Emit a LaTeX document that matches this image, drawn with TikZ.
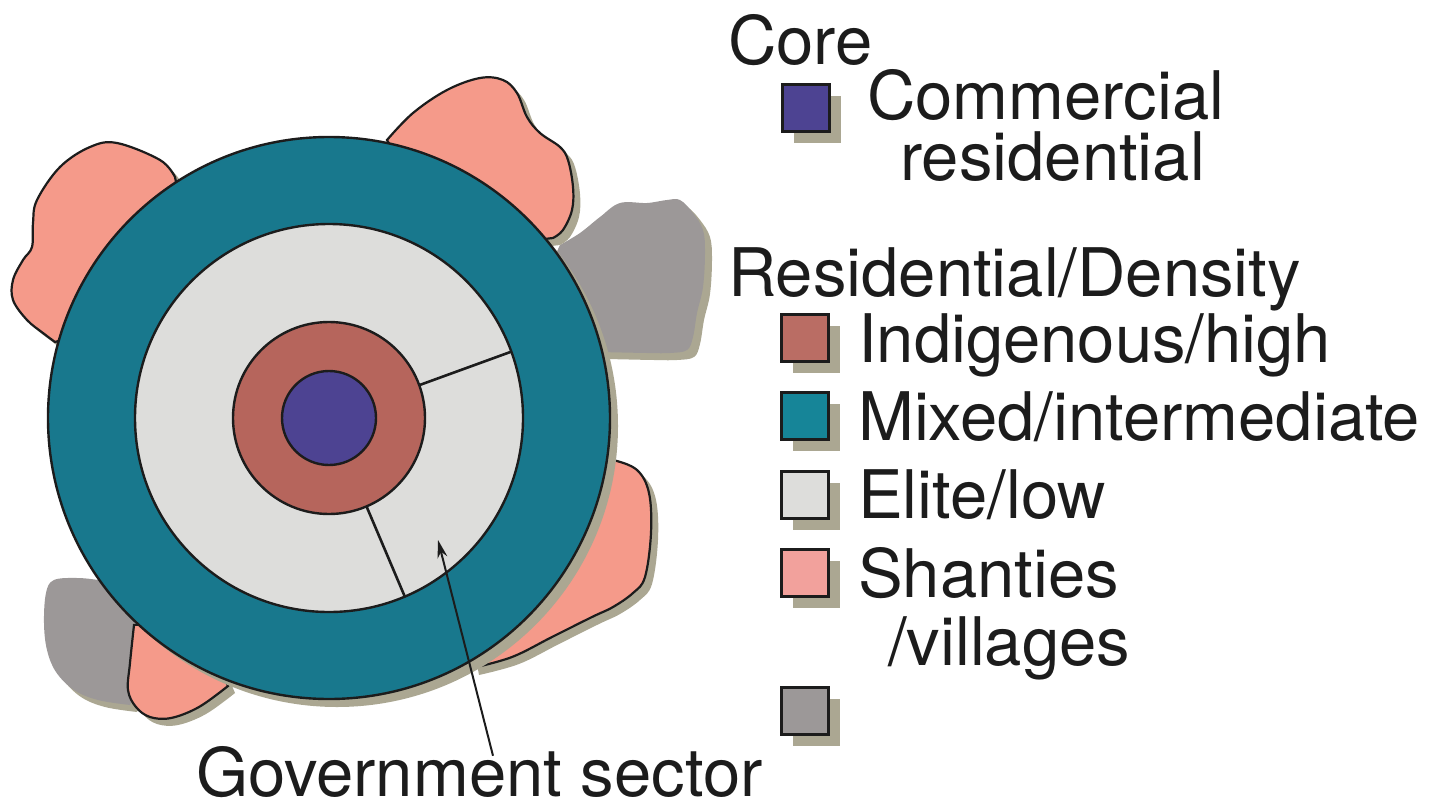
\documentclass[tikz,border=0pt]{standalone}
\usepackage{fontspec}
\setmainfont{TeX Gyre Heros}
\usepackage{xcolor}
\usepackage{tikz}
\usetikzlibrary{arrows.meta,shadows,calc}

\definecolor{corepurple}{HTML}{4D4392}
\definecolor{indigbrown}{HTML}{B6655C}
\definecolor{mixedteal}{HTML}{18788D}
\definecolor{elitegray}{HTML}{DDDDDB}
\definecolor{shantypink}{HTML}{F59A8A}
\definecolor{keypink}{HTML}{F2A19C}
\definecolor{othergray}{HTML}{9C9898}
\definecolor{shadowkhaki}{HTML}{ABA792}
\definecolor{inkblack}{HTML}{1C1C1C}

\tikzset{
  ring/.style={circle, draw=inkblack, line width=2.4pt, inner sep=0pt, outer sep=0pt},
  flatshadow/.style={general shadow={fill=shadowkhaki, shadow xshift=#1, shadow yshift=-#1}},
  pinkblob/.style={fill=shantypink, draw=inkblack, line width=2.2pt, flatshadow=7pt},
  greyblob/.style={fill=othergray, flatshadow=7pt},
  sector/.style={draw=inkblack, line width=2.6pt},
  pointer/.style={draw=inkblack, line width=2pt, -{Stealth[length=18pt,width=10pt]}},
  keybox/.style={draw=inkblack, line width=2.2pt, minimum size=47pt, inner sep=0pt, outer sep=0pt, flatshadow=11pt},
  keytext/.style={anchor=base west, inner sep=0pt, text=inkblack, font=\fontsize{67}{80}\selectfont}
}

\begin{document}
\begin{tikzpicture}[x=1pt, y=-1pt]
    \useasboundingbox (0,0) rectangle (1453,808);

    % Outlying areas (under the rings)
    \path[greyblob] plot[smooth, tension=0.6] coordinates {(560,245) (580,233) (600,217) (620,203) (647,203) (667,200) (680,200) (693,213) (703,230) (705,253) (703,287) (697,313) (693,337) (687,350) (670,353) (647,353) (600,352)} -- (520,330) -- cycle;
    \path[greyblob] plot[smooth, tension=0.6] coordinates {(98,580) (78,578) (54,580) (46,593) (44,623) (47,650) (56,672) (74,690) (98,700) (130,705)} -- (180,600) -- cycle;

    \path[pinkblob] plot[smooth, tension=0.6] coordinates {(175,177) (160,160) (117,143) (90,147) (60,167) (37,200) (33,223) (32,247) (23,260) (13,280) (13,300) (27,320) (43,333) (55,342)} -- (200,300) -- cycle;
    \path[pinkblob] plot[smooth, tension=0.6] coordinates {(387,140) (413,113) (447,90) (480,78) (503,80) (517,93) (527,117) (540,133) (560,147) (568,160) (573,187) (572,210) (563,230) (553,238)} -- (450,250) -- cycle;
    \path[pinkblob] plot[smooth, tension=0.6] coordinates {(605,462) (613,460) (637,470) (649,493) (651,533) (645,577) (633,593) (613,607) (592,617) (552,637) (512,657) (472,668)} -- (450,550) -- cycle;
    \path[pinkblob] plot[smooth, tension=0.6] coordinates {(134,625) (130,663) (128,690) (136,707) (150,717) (171,718) (199,707) (228,686)} -- (200,620) -- cycle;

    % Rings
    \node[ring, fill=mixedteal, minimum size=562pt, flatshadow=8pt] (mixed) at (329,418) {};
    \node[ring, fill=elitegray, minimum size=388pt] (elite) at (329,418) {};
    \node[ring, fill=indigbrown, minimum size=192pt] (indig) at (329,418) {};
    \node[ring, fill=corepurple, minimum size=94pt] (cbd) at (329,418) {};

    % Government sector wedge
    \draw[sector] (indig.20) -- (elite.20);
    \draw[sector] (indig.-67) -- (elite.-67);

    \node[keytext] (gov) at (196,796) {Government sector};
    \coordinate (govtip) at (438,540);
    \draw[pointer] ($(gov.north west)+(297,10)$) -- (govtip);

    % Key
    \node[keytext] (corehead) at (728,64) {Core};
    \node[keybox, fill=corepurple] (keycore) at (806,108) {};
    \node[keytext] (comm) at (867,119) {Commercial};
    \node[keytext] (resid) at (900,180) {residential};

    \node[keytext] (reshead) at (728,296) {Residential/Density};
    \node[keybox, fill=indigbrown!95!white] (keyindig) at (805,338) {};
    \node[keytext] (indigtext) at (858,362) {Indigenous/high};
    \node[keybox, fill=mixedteal!90!cyan] (keymixed) at (805,416) {};
    \node[keytext] (mixedtext) at (858,440) {Mixed/intermediate};
    \node[keybox, fill=elitegray] (keyelite) at (805,495) {};
    \node[keytext] (elitetext) at (858,518) {Elite/low};
    \node[keybox, fill=keypink] (keyshanty) at (805,573) {};
    \node[keytext] (shantytext) at (858,597) {Shanties};
    \node[keytext] (villagetext) at (888,665) {/villages};
    \node[keybox, fill=othergray] (keyother) at (805,711) {};
\end{tikzpicture}
\end{document}
